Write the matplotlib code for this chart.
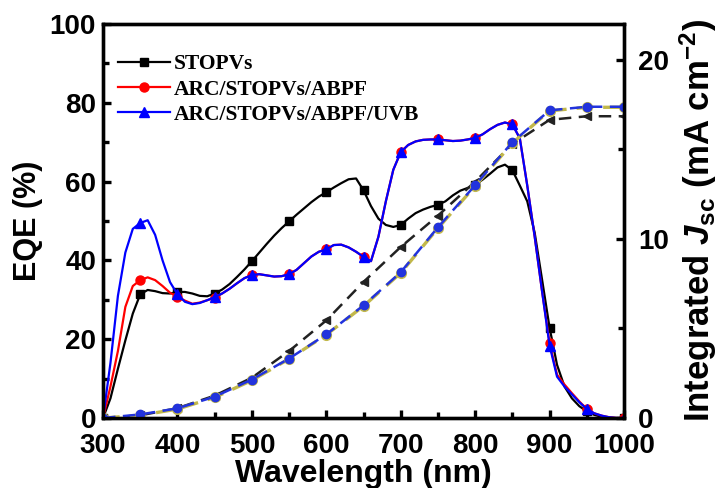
import numpy as np
import matplotlib.pyplot as plt

plt.rcParams['font.family'] = 'Liberation Sans'
plt.rcParams['font.weight'] = 'bold'
plt.rcParams['mathtext.fontset'] = 'custom'
plt.rcParams['mathtext.rm'] = 'Liberation Sans:bold'
plt.rcParams['mathtext.it'] = 'Liberation Sans:bold:italic'

# EQE spectra, 10 nm steps from 300 to 1000 nm
wl = np.arange(300, 1001, 10)
eqe_stopv = [0, 5, 12.5, 19.7, 26.5, 31.4, 32.5, 32.2, 31.7, 31.6,
             32.0, 32.0, 31.6, 31.0, 30.9, 31.6, 32.6, 34.0, 35.8, 37.7,
             39.8, 42.0, 44.2, 46.3, 48.2, 49.9, 51.6, 53.2, 54.8, 56.2,
             57.3, 58.5, 59.6, 60.6, 60.8, 57.8, 53.8, 50.6, 49.0, 48.5,
             49.0, 50.6, 52.0, 52.9, 53.6, 54.1, 55.0, 56.5, 57.7, 58.4,
             59.2, 60.5, 62.0, 63.6, 64.3, 62.9, 59.0, 55.0, 47.0, 35.0,
             22.9, 13.5, 8.0, 5.0, 3.0, 1.7, 0.8, 0.3, 0.1, 0, 0]
eqe_abpf = [0, 8, 17, 28.2, 33.5, 35.0, 35.7, 35.0, 33.5, 31.8,
            30.8, 29.8, 29.0, 29.3, 29.9, 30.5, 31.6, 32.8, 34.2, 35.5,
            36.3, 36.5, 36.2, 35.9, 36.0, 36.5, 37.6, 39.3, 41.0, 42.2,
            42.8, 43.9, 44.0, 43.3, 42.2, 40.9, 39.8, 46.0, 55.0, 63.0,
            67.5, 69.3, 70.2, 70.6, 70.7, 70.7, 70.5, 70.3, 70.4, 70.7,
            71.1, 72.0, 73.3, 74.4, 75.0, 74.5, 71.0, 59.0, 46.0, 32.0,
            19.0, 11.0, 8.5, 6.3, 4.2, 2.3, 1.2, 0.6, 0.2, 0, 0]
eqe_uvb = [0, 14, 31, 42.0, 48.0, 49.5, 50.2, 46.5, 40.0, 34.5,
           31.4, 29.5, 28.9, 29.2, 29.9, 30.7, 31.6, 32.8, 34.2, 35.5,
           36.3, 36.5, 36.2, 35.9, 36.0, 36.5, 37.6, 39.3, 41.0, 42.2,
           42.8, 43.9, 44.0, 43.3, 42.2, 40.9, 39.8, 46.0, 55.0, 63.0,
           67.5, 69.3, 70.2, 70.6, 70.7, 70.7, 70.5, 70.3, 70.4, 70.7,
           71.1, 72.0, 73.3, 74.4, 75.0, 74.5, 71.0, 59.0, 46.0, 32.0,
           18.4, 10.5, 8.0, 6.0, 4.0, 2.3, 1.2, 0.6, 0.2, 0, 0]

# integrated current density, 50 nm steps
wl_j = np.arange(300, 1001, 50)
jsc_stopv = [0, 0.15, 0.55, 1.25, 2.25, 3.74, 5.45, 7.6, 9.55, 11.3,
             13.2, 15.3, 16.65, 16.85, 16.85]
jsc_abpf = [0, 0.15, 0.5, 1.15, 2.1, 3.3, 4.65, 6.25, 8.1, 10.6,
            12.95, 15.35, 17.15, 17.35, 17.35]
jsc_uvb = [0, 0.2, 0.54, 1.19, 2.15, 3.32, 4.67, 6.29, 8.14, 10.65,
           13.0, 15.4, 17.18, 17.38, 17.38]

fig = plt.figure(figsize=(7.24, 4.88), dpi=100)
ax = fig.add_axes([0.1423, 0.1434, 0.7196, 0.8074])
ax2 = ax.twinx()

ax.plot(wl, eqe_stopv, color='black', lw=1.6, marker='s', ms=6,
        markevery=5, label='STOPVs', zorder=3)
ax.plot(wl, eqe_abpf, color='red', lw=1.6, marker='o', ms=6.5,
        markevery=5, label='ARC/STOPVs/ABPF', zorder=4)
ax.plot(wl, eqe_uvb, color='blue', lw=1.6, marker='^', ms=7,
        markevery=5, label='ARC/STOPVs/ABPF/UVB', zorder=5)

ax2.plot(wl_j, jsc_stopv, color='#222222', lw=1.8, ls=(0, (5, 3)),
         marker='<', ms=6)
ax2.plot(wl_j, jsc_abpf, color='#c2b84a', lw=2.4, ls=(0, (5, 3)),
         marker='o', ms=7)
ax2.plot(wl_j, jsc_uvb, color='#2233dd', lw=1.8, ls=(0, (5, 3)),
         marker='o', ms=6)

ax.set_xlim(300, 1000)
ax.set_ylim(0, 100)
ax2.set_ylim(0, 22)
ax.set_xticks(np.arange(300, 1001, 100))
ax.set_xticks(np.arange(350, 1000, 100), minor=True)
ax.set_yticks(np.arange(0, 101, 20))
ax.set_yticks(np.arange(10, 100, 20), minor=True)
ax2.set_yticks([0, 10, 20])
ax2.set_yticks([5, 15], minor=True)

for a in (ax, ax2):
    for s in a.spines.values():
        s.set_linewidth(2.4)
    a.tick_params(which='major', direction='in', length=6, width=2.4,
                  labelsize=20, pad=5)
    a.tick_params(which='minor', direction='in', length=4, width=2.4)
ax.tick_params(which='both', right=False, top=False)
ax.tick_params(axis='x', pad=10.5)
ax2.tick_params(axis='y', pad=10)

ax.set_xlabel('Wavelength (nm)', fontsize=23, fontweight='bold', labelpad=0)
ax.set_ylabel('EQE (%)', fontsize=22, fontweight='bold', labelpad=5)
ax2.set_ylabel(r'Integrated $J_{\mathrm{sc}}$ (mA cm$^{-2}$)', fontsize=25,
               fontweight='bold', labelpad=6)

ax.legend(loc='upper left', bbox_to_anchor=(0.0, 0.962), frameon=False,
          prop={'family': 'Liberation Serif', 'weight': 'bold', 'size': 15.5},
          handlelength=2.4, handletextpad=0.2, labelspacing=0.25,
          borderaxespad=0.3)

fig.savefig('out.png', dpi=100)
